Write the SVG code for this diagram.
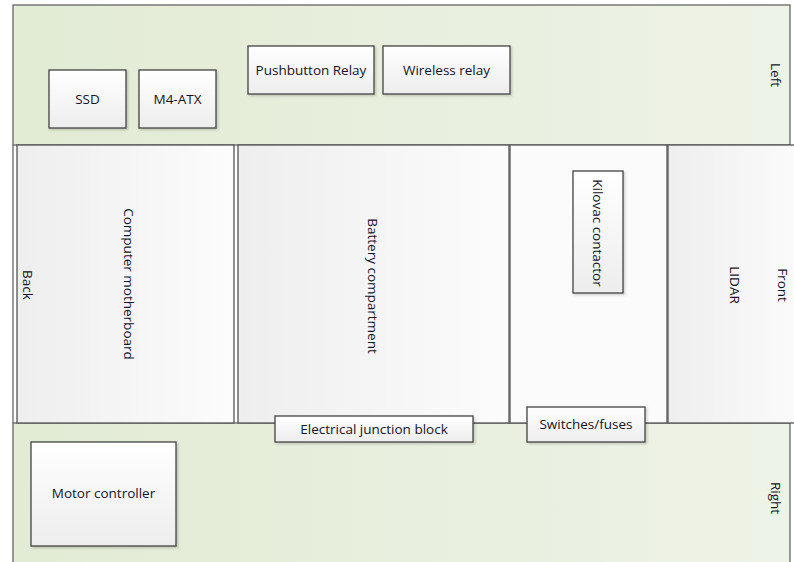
<svg xmlns="http://www.w3.org/2000/svg" width="794" height="562" viewBox="0 0 794 562">
<defs>
<linearGradient id="gp" x1="0" y1="0" x2="1" y2="0"><stop offset="0" stop-color="#e2ebd4"/><stop offset="1" stop-color="#eef3e7"/></linearGradient>
<linearGradient id="gb" x1="0" y1="0" x2="0" y2="1"><stop offset="0" stop-color="#ffffff"/><stop offset="1" stop-color="#ededed"/></linearGradient>
<linearGradient id="gh" x1="0" y1="0" x2="1" y2="0"><stop offset="0" stop-color="#eeeeee"/><stop offset="1" stop-color="#fcfcfc"/></linearGradient>
<filter id="sh" x="-10%" y="-10%" width="130%" height="130%"><feDropShadow dx="1.5" dy="1.5" stdDeviation="1" flood-color="#000" flood-opacity="0.18"/></filter>
</defs>
<style>
.pn{fill:url(#gp);stroke:#666;stroke-width:1.3}
.bx{fill:url(#gb);stroke:#444;stroke-width:1.3;filter:url(#sh)}
.mb{fill:url(#gh);stroke:#555;stroke-width:1.3}
text{font-family:"Open Sans","Liberation Sans",sans-serif;font-size:13.5px;fill:#141428;text-anchor:middle;dominant-baseline:central}
</style>
<rect width="794" height="562" fill="#ffffff"/>
<g id="left-panel"><rect class="pn" x="13" y="5" width="777" height="140"/><text transform="translate(776,75) rotate(90)">Left</text></g>
<g id="right-panel"><rect class="pn" x="13" y="423" width="777" height="150"/><text transform="translate(776,498) rotate(90)">Right</text></g>
<line x1="13" y1="145" x2="13" y2="423" stroke="#666" stroke-width="1.3"/>
<g id="computer-motherboard"><rect class="mb" x="17" y="145" width="217" height="278"/><text transform="translate(129,284) rotate(90)">Computer motherboard</text></g>
<g id="back"><text transform="translate(28,285) rotate(90)">Back</text></g>
<g id="battery-compartment"><rect class="mb" x="238" y="145" width="271" height="278"/><text transform="translate(373,286) rotate(90)">Battery compartment</text></g>
<g id="switch-bay"><rect class="mb" x="510" y="145" width="157" height="278" style="fill:#fbfbfb"/></g>
<g id="lidar"><rect class="mb" x="668" y="145" width="140" height="278"/><text transform="translate(735,285) rotate(90)">LIDAR</text></g>
<g id="front"><text transform="translate(783,285) rotate(90)">Front</text></g>
<g id="kilovac-contactor"><rect class="bx" x="573" y="171" width="50" height="122"/><text transform="translate(598,233) rotate(90)">Kilovac contactor</text></g>
<g id="ssd"><rect class="bx" x="49" y="70" width="77" height="58"/><text x="87.5" y="99">SSD</text></g>
<g id="m4-atx"><rect class="bx" x="139" y="70" width="77" height="58"/><text x="177.5" y="99">M4-ATX</text></g>
<g id="pushbutton-relay"><rect class="bx" x="248" y="46" width="126" height="48"/><text x="311" y="70">Pushbutton Relay</text></g>
<g id="wireless-relay"><rect class="bx" x="383" y="46" width="127" height="48"/><text x="446.5" y="70">Wireless relay</text></g>
<g id="electrical-junction-block"><rect class="bx" x="275" y="416" width="198" height="26"/><text x="374" y="429">Electrical junction block</text></g>
<g id="switches-fuses"><rect class="bx" x="527" y="407" width="118" height="35"/><text x="586" y="424">Switches/fuses</text></g>
<g id="motor-controller"><rect class="bx" x="31" y="442" width="145" height="104"/><text x="103.5" y="493">Motor controller</text></g>
<g id="connectors"></g>
</svg>
